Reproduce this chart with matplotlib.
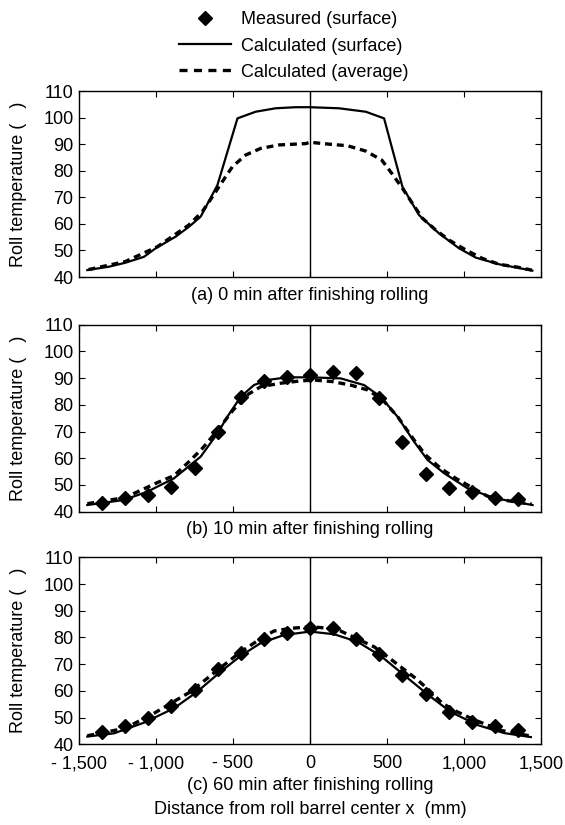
import matplotlib
matplotlib.use("Agg")
import matplotlib.pyplot as plt
from matplotlib.lines import Line2D

plt.rcParams['font.family'] = ['Liberation Sans', 'DejaVu Sans']
plt.rcParams['lines.scale_dashes'] = False

# ---------------- data ----------------
x_meas = [-1350, -1200, -1050, -900, -750, -600, -450, -300, -150, 0,
          150, 300, 450, 600, 750, 900, 1050, 1200, 1350]

# (a) 0 min
a_surf_x = [-1446, -1304, -1197, -1078, -1002, -872, -786, -710, -601, -471,
            -353, -223, -93, 0, 188, 362, 481, 600, 708, 838, 968, 1076, 1227, 1444]
a_surf_y = [42.6, 43.9, 45.4, 47.6, 50.8, 55.2, 58.9, 62.7, 74.6, 99.7,
            102.2, 103.5, 103.9, 103.9, 103.5, 102.2, 99.7, 74.0, 63.3, 56.4, 50.8, 47.3, 44.8, 42.4]
a_avg_x = [-1438, -1200, -991, -786, -699, -634, -569, -504, -418, -320, -201, -28,
           0, 123, 243, 362, 466, 531, 600, 665, 730, 816, 903, 1011, 1119, 1227, 1347, 1440]
a_avg_y = [42.8, 45.8, 51.4, 59.6, 64.6, 70.2, 75.9, 81.5, 85.9, 88.4, 89.7, 90.2,
           90.7, 90.0, 89.4, 87.4, 84.0, 79.0, 73.4, 67.7, 62.1, 57.7, 53.9, 50.2, 47.0, 44.8, 43.7, 42.6]

# (b) 10 min
b_meas = [43.4, 45.0, 46.3, 49.4, 56.5, 69.8, 82.8, 88.9, 90.5, 91.1,
          92.3, 91.8, 82.7, 66.1, 54.0, 48.8, 47.5, 45.2, 44.8]
b_surf_x = [-1446, -1208, -1056, -883, -710, -601, -536, -450, -364, -277, -147, 0,
            199, 351, 459, 568, 676, 763, 871, 1022, 1195, 1445]
b_surf_y = [42.5, 44.4, 47.5, 52.5, 60.6, 69.3, 75.6, 83.0, 87.4, 89.3, 90.3, 90.3,
            89.9, 87.4, 83.0, 75.6, 66.2, 59.4, 54.4, 48.8, 45.1, 42.5]
b_avg_x = [-1446, -1200, -991, -883, -786, -699, -600, -500, -400, -320, -190, -71,
           24, 145, 264, 373, 470, 570, 676, 751, 849, 946, 1152, 1250, 1440]
b_avg_y = [43.0, 45.3, 50.9, 53.5, 58.7, 63.7, 70.5, 78.0, 84.0, 86.8, 88.1, 88.9,
           89.3, 88.7, 87.4, 85.6, 82.0, 75.5, 66.8, 61.2, 56.2, 52.5, 45.8, 44.4, 42.8]

# (c) 60 min
c_meas = [44.7, 46.9, 49.7, 54.3, 60.3, 68.1, 74.3, 79.3, 81.6, 83.7,
          83.4, 79.3, 73.7, 65.9, 58.7, 52.0, 48.5, 47.0, 45.4]
c_surf_x = [-1446, -1273, -1078, -883, -732, -580, -450, -320, -169, 0,
            156, 308, 459, 611, 763, 914, 1088, 1261, 1434]
c_surf_y = [42.9, 44.1, 48.1, 53.5, 59.7, 67.2, 73.1, 77.9, 80.9, 82.2,
            81.2, 78.4, 73.1, 65.9, 58.7, 52.1, 47.2, 44.2, 42.7]
c_avg_x = [-1446, -1200, -1013, -775, -600, -450, -300, -234, -125, 0,
           89, 199, 416, 503, 600, 686, 773, 860, 958, 1065, 1240, 1440]
c_avg_y = [43.2, 46.0, 51.6, 59.7, 67.8, 74.6, 80.3, 82.4, 83.4, 84.0,
           83.6, 82.4, 76.5, 72.8, 68.5, 64.7, 60.3, 55.3, 52.1, 49.2, 45.2, 43.0]

x_ticks = [-1500, -1000, -500, 0, 500, 1000, 1500]
x_tick_labels = ['- 1,500', '- 1,000', '- 500', '0', '500', '1,000', '1,500']
y_ticks = [40, 50, 60, 70, 80, 90, 100, 110]
captions = ['(a) 0 min after finishing rolling',
            '(b) 10 min after finishing rolling',
            '(c) 60 min after finishing rolling']
ylabel = 'Roll temperature (   )'
xlabel = 'Distance from roll barrel center x  (mm)'
legend_labels = ['Measured (surface)', 'Calculated (surface)', 'Calculated (average)']

# ---------------- figure ----------------
W, H = 565, 825
fig = plt.figure(figsize=(W / 100, H / 100), dpi=100)
FS = 13

def fx(px):
    return px / W

def fy(py):
    return 1 - py / H

left, right = 79, 541
panels = [(91, 277), (324.7, 511.7), (557.3, 744.3)]

surf_data = [(a_surf_x, a_surf_y), (b_surf_x, b_surf_y), (c_surf_x, c_surf_y)]
avg_data = [(a_avg_x, a_avg_y), (b_avg_x, b_avg_y), (c_avg_x, c_avg_y)]
meas_data = [None, b_meas, c_meas]
caption_y = [296, 530, 785]

DASH = (5.0, 3.5)
LEG_DASH = (5.8, 4.6)

for i, (top, bot) in enumerate(panels):
    ax = fig.add_axes([fx(left), fy(bot), fx(right) - fx(left), (bot - top) / H])
    ax.set_xlim(-1500, 1500)
    ax.set_ylim(40, 110)
    ax.axvline(0, color='black', lw=1.0, zorder=1)
    sx, sy = surf_data[i]
    ax.plot(sx, sy, color='black', lw=1.6, zorder=3)
    axx, axy = avg_data[i]
    ax.plot(axx, axy, color='black', lw=2.4, dashes=DASH, zorder=3)
    if meas_data[i] is not None:
        ax.plot(x_meas, meas_data[i], linestyle='none', marker='D', ms=7.5,
                color='black', zorder=4)
    ax.set_xticks(x_ticks)
    ax.set_yticks(y_ticks)
    ax.tick_params(direction='in', top=True, right=True, length=4, width=0.8,
                   labelsize=FS, pad=4)
    if i == 2:
        ax.set_xticklabels(x_tick_labels)
        ax.tick_params(axis='x', pad=8)
    else:
        ax.set_xticklabels([])
    for sp in ax.spines.values():
        sp.set_linewidth(1.0)
    fig.text(fx(19), fy((top + bot) / 2), ylabel, rotation=90, ha='center',
             va='center', fontsize=FS)
    fig.text(fx(310), fy(caption_y[i]), captions[i], ha='center', va='center',
             fontsize=FS)

fig.text(fx(310), fy(810), xlabel, ha='center', va='center', fontsize=FS)

handles = [Line2D([], [], linestyle='none', marker='D', ms=7.5, color='black'),
           Line2D([], [], color='black', lw=1.6),
           Line2D([], [], color='black', lw=2.4, dashes=LEG_DASH)]
fig.legend(handles, legend_labels, loc='upper left',
           bbox_to_anchor=(fx(179), fy(11.5)), frameon=False, fontsize=FS,
           handlelength=2.9, handletextpad=0.55, labelspacing=0.5,
           borderpad=0, borderaxespad=0)

fig.savefig('out.png', dpi=100)
